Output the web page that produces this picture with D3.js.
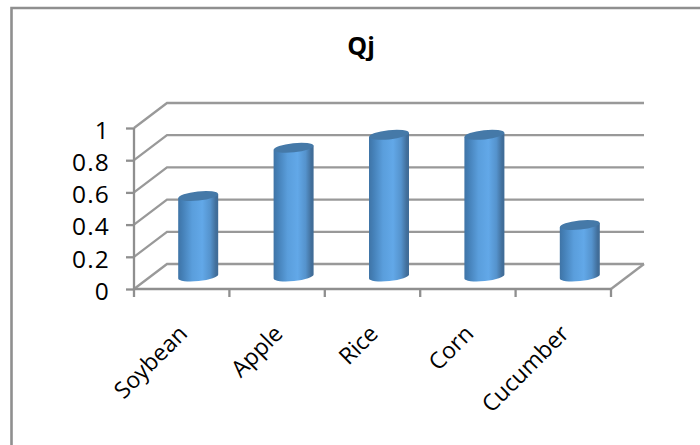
<!DOCTYPE html>
<html>
<head>
<meta charset="utf-8">
<script src="https://cdn.jsdelivr.net/npm/d3@7"></script>
<style>
  html, body { margin: 0; padding: 0; background: #fff; }
  svg { display: block; }
  text { font-family: "Open Sans", Lato, sans-serif; fill: #000; }
</style>
</head>
<body>
<svg id="chart" width="700" height="445"></svg>
<script>
const chartTitle = "Qj";
const categories = ["Soybean", "Apple", "Rice", "Corn", "Cucumber"];
const values = [0.5, 0.8, 0.88, 0.88, 0.32];
const yTicks = [0, 0.2, 0.4, 0.6, 0.8, 1];

const svg = d3.select("#chart");
const frame = "#8f8f8f";
const grid = "#999999";

// Oblique projection of the chart box: the back wall is offset from the front plane.
const depth = { dx: 33, dy: -25 };
const x = d3.scaleBand().domain(categories).range([134, 611]);
const y = d3.scaleLinear().domain([0, 1]).range([289, 128]);

// Outer chart frame (left and top edges only)
svg.append("path")
  .attr("d", "M11.5,445V8H700")
  .attr("fill", "none").attr("stroke", frame).attr("stroke-width", 2.6);

// Title
svg.append("text").attr("x", 361).attr("y", 55)
  .attr("text-anchor", "middle")
  .attr("font-size", 25).attr("font-weight", 700)
  .text(chartTitle);

// Side wall and back wall gridlines
const wall = svg.append("g").attr("fill", "none").attr("stroke", grid).attr("stroke-width", 2.3);
yTicks.forEach(t => {
  const [x0, x1] = x.range();
  wall.append("path").attr("d",
    `M${x0},${y(t)}L${x0 + depth.dx},${y(t) + depth.dy}H${x1 + depth.dx}`);
});
wall.append("path").attr("d",
  `M${x.range()[1]},${y(0)}L${x.range()[1] + depth.dx},${y(0) + depth.dy}`);

// Value axis, with ticks to the left of the front plane
const yAxis = svg.append("g").attr("transform", `translate(${x.range()[0]},0)`)
  .call(d3.axisLeft(y).tickValues(yTicks).tickSize(8).tickPadding(16).tickFormat(d3.format("~g")));
yAxis.selectAll("path,line").attr("stroke", frame).attr("stroke-width", 2.3);
yAxis.select(".domain").attr("d", `M0,${y(1)}V${y(0)}`);
yAxis.selectAll("text")
  .attr("font-size", 24.5)
  .attr("letter-spacing", 1.2)
  .attr("font-family", '"Open Sans", Lato, sans-serif')
  .attr("dy", "0.42em");

// Category axis: ticks sit on the band edges
const xAxis = svg.append("g").attr("stroke", frame).attr("stroke-width", 2.3);
xAxis.append("line").attr("x1", x.range()[0]).attr("x2", x.range()[1])
  .attr("y1", y(0)).attr("y2", y(0));
d3.range(categories.length + 1).forEach(i => {
  const px = x.range()[0] + i * x.step();
  xAxis.append("line").attr("x1", px).attr("x2", px).attr("y1", y(0)).attr("y2", y(0) + 8);
});

// Rotated category labels
svg.append("g").selectAll("text").data(categories).join("text")
  .attr("transform", d => `translate(${x(d) + x.bandwidth() / 2 + 7},${y(0) + 46}) rotate(-45)`)
  .attr("text-anchor", "end")
  .attr("font-size", 23)
  .text(d => d);

// Horizontal shading that wraps round each cylinder
const defs = svg.append("defs");
const shade = defs.append("linearGradient").attr("id", "cyl")
  .attr("x1", 0).attr("x2", 1).attr("y1", 0).attr("y2", 0);
[[0, "#3f74a6"], [0.1, "#447fb6"], [0.35, "#5a9edc"], [0.6, "#62a8e8"],
 [0.8, "#5593cd"], [0.94, "#426f9b"], [1, "#3f6b96"]]
  .forEach(([o, c]) => shade.append("stop").attr("offset", o).attr("stop-color", c));

// Cylinders stand in the middle of the box depth
const rx = 20, ry = 4.6, tilt = -6;
const cx = d => x(d) + x.bandwidth() / 2 + depth.dx / 2;
const lift = depth.dy / 2;
const edge = rx * Math.sin(-tilt * Math.PI / 180);

const bars = svg.append("g").selectAll("g")
  .data(categories.map((c, i) => ({ c, v: values[i] })))
  .join("g")
  .attr("transform", d => `translate(${cx(d.c)},${y(0) + lift})`);

bars.append("path")
  .attr("fill", "url(#cyl)")
  .attr("d", d => {
    const h = y(0) - y(d.v);
    return `M${-rx},${-h + edge}V${edge}` +
           `A${rx},${ry} ${tilt} 0 0 ${rx},${-edge}` +
           `V${-h - edge}Z`;
  });

bars.append("ellipse")
  .attr("rx", rx).attr("ry", ry)
  .attr("fill", "#4579a8")
  .attr("transform", d => `translate(0,${y(d.v) - y(0)}) rotate(${tilt})`);
</script>
</body>
</html>
